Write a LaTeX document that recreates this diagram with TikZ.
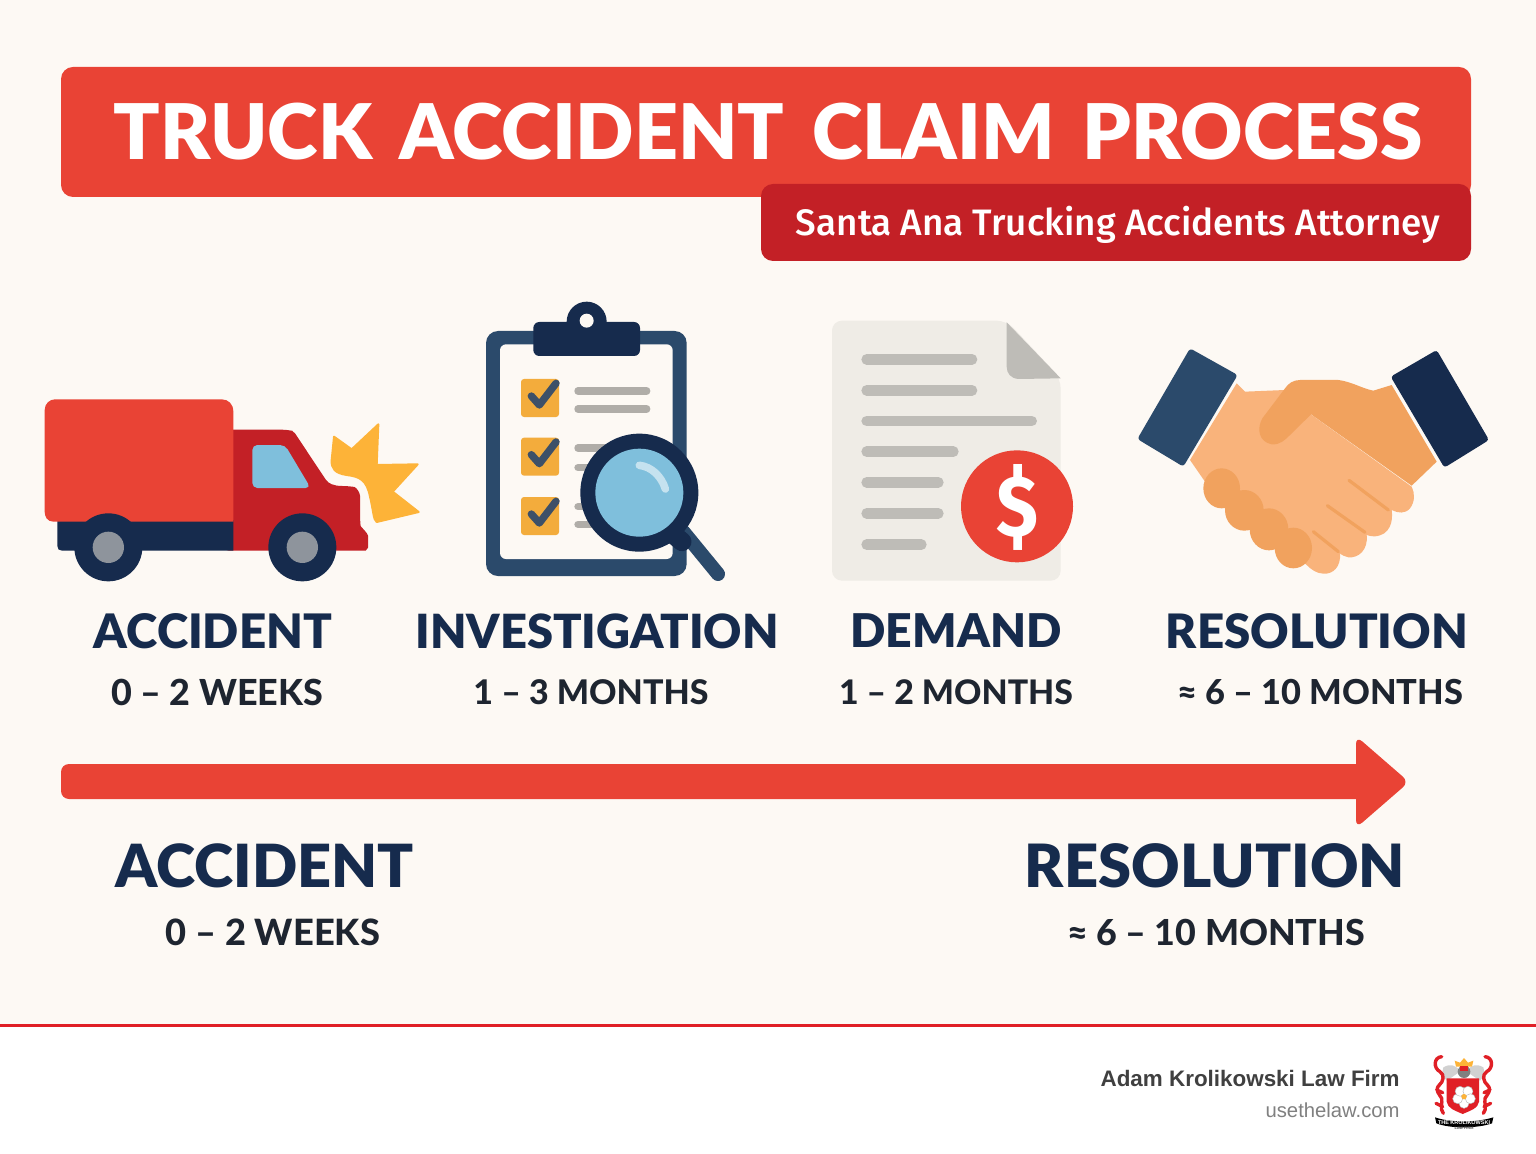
\documentclass[tikz,border=0pt]{standalone}
\usepackage{fontspec}
\usepackage{graphicx}
\setmainfont{Lato}
\newfontfamily\heavyfont{Lato Black}
\newfontfamily\semifont{Lato Heavy}
\newfontfamily\subfont{Fira Sans Medium}
\newfontfamily\dolfont{Fira Sans}
\newfontfamily\footfont{Liberation Sans}
\usetikzlibrary{shapes.geometric}
\definecolor{bgc}{HTML}{FDF9F4}
\definecolor{redA}{HTML}{E94335}
\definecolor{redB}{HTML}{C32026}
\definecolor{navyA}{HTML}{162B4D}
\definecolor{navyB}{HTML}{2B4A6B}
\definecolor{inkc}{HTML}{1E2530}
\definecolor{skyc}{HTML}{7FBFDC}
\definecolor{hubc}{HTML}{8E949C}
\definecolor{goldc}{HTML}{FDB338}
\definecolor{boxc}{HTML}{F3AC3C}
\definecolor{checkc}{HTML}{3D5068}
\definecolor{barc}{HTML}{B0ADA8}
\definecolor{paperc}{HTML}{EFECE6}
\definecolor{foldc}{HTML}{BEBCB7}
\definecolor{skinA}{HTML}{F9B37B}
\definecolor{skinB}{HTML}{F1A25E}
\definecolor{linec}{HTML}{E01F26}
\newcommand{\fitw}[2]{\resizebox{\dimexpr#1pt/2\relax}{!}{#2}}
\newcommand{\wsp}{\hspace{0.36em}}
\tikzset{
 zoomat/.style={shift={(#1)},x=0.16667pt,y=-0.16667pt},
 txt/.style={inner sep=0pt,outer sep=0pt,font=\heavyfont},
 headlab/.style={txt,text=navyA},
 sublab/.style={inner sep=0pt,outer sep=0pt,font=\semifont,text=inkc},
 greybar/.style={line cap=round,line width=3.7pt,draw=barc},
 docbar/.style={line cap=round,line width=5.3pt,draw=foldc},
 tick/.style={line cap=round,line join=round,line width=3.7pt,draw=checkc},
 crease/.style={line cap=round,line width=1.6pt,draw=skinB},
 mantle/.style={line cap=round,line join=round,line width=1.7pt,draw=linec},
}
\begin{document}
\begin{tikzpicture}[x=0.5pt,y=-0.5pt]
\useasboundingbox (0,0) rectangle (1536,1154);
\fill[bgc] (0,0) rectangle (1536,1154);
\fill[white] (0,1026) rectangle (1536,1154);
\fill[linec] (0,1024) rectangle (1536,1027);
% banner
\fill[redA,rounded corners=6pt] (61,67) rectangle (1471,197);
\fill[redB,rounded corners=6pt] (761,261) -- (761,184) -- (1471,184) -- (1471,261) -- cycle;
\node[txt,text=white] (title) at (768,132) {\fitw{1308}{TRUCK\wsp ACCIDENT\wsp CLAIM\wsp PROCESS}};
\node[inner sep=0pt,text=white,font=\subfont] (subtitle) at (1118,225) {\fitw{644}{Santa Ana Trucking Accidents Attorney}};
% truck
\begin{scope}[zoomat={30,380}]
\fill[redB,rounded corners=3pt] (580,149) -- (770,149) .. controls (785,152) and (795,160) .. (805,175) -- (878,285) .. controls (895,310) and (910,318) .. (955,318) .. controls (980,322) and (990,340) .. (990,365) -- (990,420) .. controls (992,440) and (1014,460) .. (1014,485) .. controls (1014,505) and (1005,512) .. (990,512) -- (580,512) -- cycle;
\fill[navyA] (610,420) -- (82,420) -- (82,498) .. controls (82,507) and (87,512) .. (96,512) -- (610,512) -- cycle;
\fill[skyc,rounded corners=2.5pt] (667,195) -- (765,195) -- (842,324) -- (667,324) -- cycle;
\fill[redA] (610,425) -- (70,425) .. controls (52,425) and (44,410) .. (44,395) -- (44,90) .. controls (44,70) and (60,58) .. (75,58) -- (575,58) .. controls (595,58) and (610,72) .. (610,95) -- cycle;
\fill[navyA] (235,502) circle [radius=102];
\fill[navyA] (817,502) circle [radius=102];
\fill[hubc] (235,502) circle [radius=47];
\fill[hubc] (817,502) circle [radius=47];
\filldraw[goldc,line width=1pt,line join=round] (912,170) -- (965,208) -- (1045,133) -- (1040,255) -- (1163,253) -- (1088,335) -- (1166,396) -- (1040,426) .. controls (1030,420) and (1030,390) .. (1020,350) .. controls (1010,300) and (990,290) .. (950,285) .. controls (915,280) and (903,265) .. (905,240) -- cycle;
\end{scope}
% clipboard
\begin{scope}[zoomat={470,290}]
\fill[navyB,rounded corners=6pt] (48,123) rectangle (650,858);
\fill[bgc,rounded corners=3pt] (90,163) rectangle (608,807);
\fill[navyA] (350,95) circle [radius=60];
\fill[navyA,rounded corners=3pt] (190,96) rectangle (510,198);
\fill[bgc] (350,92) circle [radius=21];
\foreach \yy/\la/\lb in {267/303/357,443/474/533,621/650/703}{
 \fill[boxc,rounded corners=1.5pt] (153,\yy) rectangle +(114,114);
 \draw[tick] (184,\yy+51) -- (208,\yy+78) -- (258,\yy+13);
 \draw[greybar] (324,\la) -- (530,\la);
 \draw[greybar] (324,\lb) -- (530,\lb);
}
\draw[line cap=round,line width=7pt,draw=navyB] (640,725) -- (744,852);
\draw[line width=9.5pt,line cap=round,draw=navyA] (612,735) -- (636,755);
\fill[navyA] (508,608) circle [radius=177];
\fill[skyc] (508,608) circle [radius=132];
\draw[line cap=round,line width=3.8pt,draw=skyc!45!white] (508,526) .. controls (545,530) and (575,560) .. (586,597);
\end{scope}
% document
\begin{scope}[zoomat={820,310}]
\fill[paperc,rounded corners=5pt] (36,32) -- (560,32) -- (722,205) -- (722,812) -- (36,812) -- cycle;
\fill[foldc,line join=round] (560,37) -- (722,205) -- (595,207) .. controls (572,205) and (560,190) .. (560,170) -- cycle;
\foreach \yy/\xe in {148/472,241/472,333/651,425/416,517/371,610/371,704/320}{
 \draw[docbar] (140,\yy) -- (\xe-16,\yy);
}
\fill[redA] (591,589) circle [radius=168];
\node[inner sep=0pt,text=white,font=\dolfont\bfseries] (dollar) at (592,592) {\resizebox{21pt}{36pt}{\$}};
\end{scope}
% handshake
\begin{scope}[zoomat={1125,335}]
\fill[skinA] (195,375) -- (335,145) -- (360,170) -- (480,165) -- (560,240) -- (860,455) .. controls (870,475) and (870,500) .. (855,520) .. controls (840,537) and (820,535) .. (800,525) .. controls (805,560) and (795,600) .. (750,604) .. controls (738,604) and (730,602) .. (725,600) .. controls (730,645) and (700,670) .. (670,667) .. controls (660,665) and (650,660) .. (645,655) .. controls (648,695) and (625,718) .. (595,716) .. controls (575,715) and (560,705) .. (545,690) -- (240,440) -- cycle;
\fill[skinB] (800,150) -- (745,167) .. controls (710,160) and (680,140) .. (640,135) -- (525,135) .. controls (505,135) and (490,145) .. (480,160) -- (412,250) .. controls (395,280) and (400,320) .. (440,328) .. controls (465,330) and (480,315) .. (495,300) -- (558,238) -- (860,452) -- (935,380) -- cycle;
\fill[navyB,rounded corners=1.5pt] (195,40) -- (338,120) -- (175,395) -- (37,312) -- cycle;
\fill[navyA,rounded corners=1.5pt] (935,45) -- (1092,315) -- (958,398) -- (797,125) -- cycle;
\fill[skinB] (290,460) ellipse [x radius=55,y radius=60];
\fill[skinB] (358,526) ellipse [x radius=58,y radius=61];
\fill[skinB] (432,583) ellipse [x radius=58,y radius=63];
\fill[skinB] (505,639) ellipse [x radius=56,y radius=61];
\draw[crease] (672,436) -- (790,525);
\draw[crease] (607,512) -- (720,592);
\draw[crease] (565,590) -- (640,650);
\end{scope}
% column labels
\node[headlab] (l1) at (213,631) {\fitw{238}{ACCIDENT}};
\node[headlab] (l2) at (597,631) {\fitw{363}{INVESTIGATION}};
\node[headlab] (l3) at (956,631) {\fitw{211}{DEMAND}};
\node[headlab] (l4) at (1317,631) {\fitw{302}{RESOLUTION}};
\node[sublab] (s1) at (217,692) {\fitw{212}{0 – 2 WEEKS}};
\node[sublab] (s2) at (591,692) {\fitw{235}{1 – 3 MONTHS}};
\node[sublab] (s3) at (956,692) {\fitw{234}{1 – 2 MONTHS}};
\node[sublab] (s4) at (1320,692) {\fitw{286}{≈ 6 – 10 MONTHS}};
% timeline arrow
\fill[redA,rounded corners=4pt] (61,764) rectangle (1370,799);
\fill[redA,rounded corners=4pt] (1356,736) -- (1409,782) -- (1356,828) -- cycle;
\node[headlab] (b1) at (265,866) {\fitw{298}{ACCIDENT}};
\node[headlab] (b2) at (1215,866) {\fitw{380}{RESOLUTION}};
\node[sublab] (c1) at (273,932) {\fitw{214}{0 – 2 WEEKS}};
\node[sublab] (c2) at (1216,932) {\fitw{298}{≈ 6 – 10 MONTHS}};
% footer
\node[inner sep=0pt,anchor=east,text=black!75,font=\footfont\bfseries] (firm) at (1400,1078) {\fitw{299}{Adam Krolikowski Law Firm}};
\node[inner sep=0pt,anchor=east,text=black!50,font=\footfont] (web) at (1400,1110) {\fitw{134}{usethelaw.com}};
% crest
\begin{scope}[zoomat={1080,1040}]
\foreach \s in {-1,1}{
 \begin{scope}[shift={(1150,0)},xscale=\s]
 \fill[black!18] (-60,82) .. controls (-40,70) and (-20,75) .. (-10,95) -- (-50,122) .. controls (-62,110) and (-65,95) .. (-60,82) -- cycle;
 \draw[mantle] (-65,50) .. controls (-90,52) and (-90,85) .. (-70,95) .. controls (-55,105) and (-60,125) .. (-72,135);
 \draw[mantle] (-72,135) .. controls (-88,150) and (-70,165) .. (-65,175) .. controls (-62,190) and (-72,205) .. (-60,220);
 \draw[mantle] (-80,150) -- (-62,158);
 \draw[mantle] (-82,190) -- (-62,200);
 \end{scope}
}
\fill[black!50] (1152,95) circle [radius=19];
\fill[goldc] (1128,80) -- (1124,62) -- (1140,68) -- (1152,54) -- (1164,68) -- (1180,62) -- (1176,80) -- cycle;
\fill[linec] (1140,78) rectangle (1164,92);
\fill[linec] (1100,115) -- (1197,115) -- (1197,185) .. controls (1195,205) and (1170,212) .. (1148,222) .. controls (1126,212) and (1102,205) .. (1100,185) -- cycle;
\foreach \aa in {90,162,234,306,18}{
 \filldraw[fill=white,draw=black!30,line width=0.2pt] (1152,170) ++(\aa:20) circle [radius=15];
}
\fill[goldc] (1152,170) circle [radius=8];
\fill[black] (1065,232) .. controls (1110,248) and (1190,248) .. (1240,232) -- (1236,250) .. controls (1190,266) and (1110,266) .. (1069,250) -- cycle;
\node[inner sep=0pt,text=white,font=\footfont\bfseries] (motto) at (1152,247) {\fitw{52}{THE KROLIKOWSKI}};
\node[inner sep=0pt,text=black!70,font=\footfont\bfseries] (lawfirm) at (1152,264) {\fitw{19}{LAW FIRM}};
\end{scope}
\end{tikzpicture}
\end{document}
